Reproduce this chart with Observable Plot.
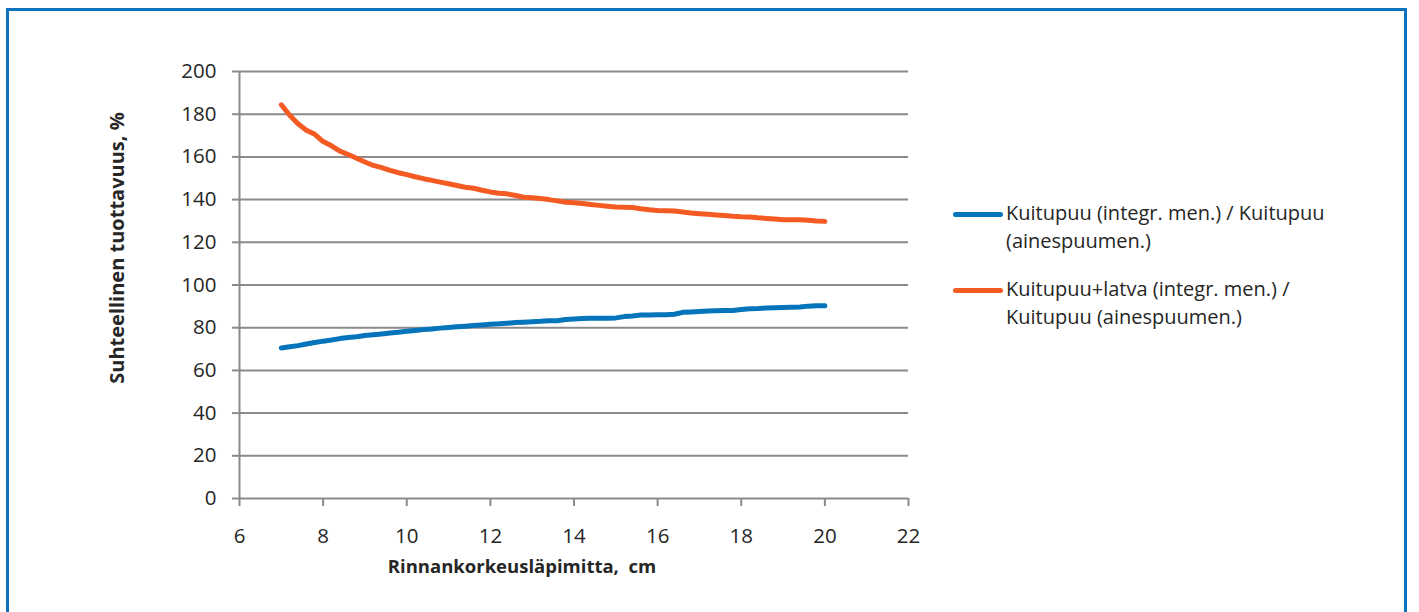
<!DOCTYPE html>
<html>
<head>
<meta charset="utf-8">
<script src="https://cdn.jsdelivr.net/npm/d3@7"></script>
<script src="https://cdn.jsdelivr.net/npm/@observablehq/plot@0.6"></script>
<style>
  html, body { margin: 0; padding: 0; background: #fff; overflow: hidden; }
  body { width: 1419px; height: 612px; position: relative; font-family: "Open Sans", sans-serif; }
  #frame { position: absolute; left: 6px; top: 8px; width: 1401px; height: 640px; border: 3px solid #0b73bb; box-sizing: border-box; }
  #chart { position: absolute; left: 0; top: 0; }
  .entry { position: absolute; left: 953px; display: flex; align-items: flex-start; }
  .swatch { width: 50px; height: 5px; border-radius: 3px; margin-top: 12px; margin-right: 3px; flex: none; }
  .label { font-size: 20px; line-height: 28px; color: #262626; margin-top: -1px; white-space: nowrap; }
</style>
</head>
<body>
<div id="frame"></div>
<div id="chart"></div>
<div id="legend"></div>
<script>
// Rinnankorkeusläpimitta (cm)
const diameter = [
  7.0, 7.2, 7.4, 7.6, 7.8, 8.0, 8.2, 8.4, 8.6, 8.8,
  9.0, 9.2, 9.4, 9.6, 9.8, 10.0, 10.2, 10.4, 10.6, 10.8,
  11.0, 11.2, 11.4, 11.6, 11.8, 12.0, 12.2, 12.4, 12.6, 12.8,
  13.0, 13.2, 13.4, 13.6, 13.8, 14.0, 14.2, 14.4, 14.6, 14.8,
  15.0, 15.2, 15.4, 15.6, 15.8, 16.0, 16.2, 16.4, 16.6, 16.8,
  17.0, 17.2, 17.4, 17.6, 17.8, 18.0, 18.2, 18.4, 18.6, 18.8,
  19.0, 19.2, 19.4, 19.6, 19.8, 20.0
];

// Kuitupuu (integr. men.) / Kuitupuu (ainespuumen.), %
const fiberOnly = [
  70.5, 71.1, 71.6, 72.4, 73.1, 73.7, 74.2, 74.9, 75.4, 75.8,
  76.3, 76.7, 77.1, 77.5, 77.9, 78.3, 78.7, 79.1, 79.4, 79.8,
  80.1, 80.4, 80.7, 81.0, 81.3, 81.6, 81.8, 82.1, 82.4, 82.6,
  82.8, 83.0, 83.3, 83.3, 83.8, 84.1, 84.3, 84.4, 84.4, 84.4,
  84.6, 85.2, 85.5, 85.9, 86.0, 86.1, 86.1, 86.3, 87.2, 87.4,
  87.6, 87.8, 87.9, 88.0, 88.1, 88.5, 88.9, 89.0, 89.2, 89.4,
  89.5, 89.6, 89.7, 90.1, 90.3, 90.3
];

// Kuitupuu+latva (integr. men.) / Kuitupuu (ainespuumen.), %
const fiberWithTop = [
  184.4, 179.5, 175.5, 172.5, 170.6, 167.2, 165.2, 162.7, 161.1, 159.4,
  157.6, 156.0, 155.0, 153.7, 152.6, 151.7, 150.7, 149.8, 149.0, 148.2,
  147.4, 146.6, 145.8, 145.3, 144.4, 143.6, 143.0, 142.7, 141.9, 141.1,
  140.9, 140.5, 140.0, 139.4, 138.8, 138.5, 138.2, 137.7, 137.3, 136.9,
  136.5, 136.4, 136.3, 135.7, 135.2, 134.9, 134.8, 134.7, 134.2, 133.7,
  133.4, 133.1, 132.8, 132.5, 132.2, 132.0, 131.9, 131.5, 131.2, 130.9,
  130.6, 130.6, 130.6, 130.3, 130.0, 129.8
];

const seriesNames = [
  "Kuitupuu (integr. men.) / Kuitupuu (ainespuumen.)",
  "Kuitupuu+latva (integr. men.) / Kuitupuu (ainespuumen.)"
];
const legendLines = [
  ["Kuitupuu (integr. men.) / Kuitupuu", "(ainespuumen.)"],
  ["Kuitupuu+latva (integr. men.) /", "Kuitupuu (ainespuumen.)"]
];
const seriesColors = ["#0474bb", "#f45b23"];

const xTicks = [6, 8, 10, 12, 14, 16, 18, 20, 22];
const yTicks = [0, 20, 40, 60, 80, 100, 120, 140, 160, 180, 200];

const xTitle = "Rinnankorkeusläpimitta,  cm";
const yTitle = "Suhteellinen tuottavuus, %";

const rows = [
  ...diameter.map((d, i) => ({d, v: fiberOnly[i], s: seriesNames[0]})),
  ...diameter.map((d, i) => ({d, v: fiberWithTop[i], s: seriesNames[1]}))
];

const gridColor = "#8a8a8a";
const textColor = "#262626";
const font = "'Open Sans', sans-serif";

const chart = Plot.plot({
  width: 1419,
  height: 612,
  marginLeft: 239,
  marginRight: 511,
  marginTop: 71,
  marginBottom: 114,
  style: {fontFamily: font, fontSize: "20px", color: textColor, background: "transparent"},
  x: {domain: [6, 22]},
  y: {domain: [0, 200]},
  color: {domain: seriesNames, range: seriesColors},
  marks: [
    Plot.ruleY(yTicks, {stroke: gridColor, strokeWidth: 2, strokeOpacity: 1}),
    Plot.ruleX([6], {y1: 0, y2: 200, stroke: gridColor, strokeWidth: 2, strokeOpacity: 1}),
    Plot.axisY({ticks: yTicks, tickSize: 7, tickPadding: 16, stroke: gridColor, strokeWidth: 2, strokeOpacity: 1, label: null, fill: textColor, fontSize: 20.5}),
    Plot.axisX({ticks: xTicks, tickSize: 8, tickPadding: 22, stroke: gridColor, strokeWidth: 2, strokeOpacity: 1, label: null, fill: textColor, fontSize: 20.5}),
    Plot.line(rows, {
      x: "d", y: "v", z: "s", stroke: "s",
      strokeWidth: 5, strokeLinecap: "round", strokeLinejoin: "round"
    }),
    Plot.text([xTitle], {frameAnchor: "bottom", textAnchor: "middle", dx: -52, dy: 74, fontWeight: "bold", fontSize: 18.5, fill: textColor}),
    Plot.text([yTitle], {frameAnchor: "left", textAnchor: "middle", rotate: -90, dx: -122, dy: -37, fontWeight: "bold", fontSize: 20, fill: textColor})
  ]
});
document.getElementById("chart").append(chart);

// Legend beside the plot
const legend = document.getElementById("legend");
const entryTops = [200, 276];
seriesNames.forEach((name, i) => {
  const entry = document.createElement("div");
  entry.className = "entry";
  entry.style.top = entryTops[i] + "px";
  const sw = document.createElement("div");
  sw.className = "swatch";
  sw.style.background = seriesColors[i];
  const lab = document.createElement("div");
  lab.className = "label";
  lab.innerHTML = legendLines[i].join("<br>");
  entry.append(sw, lab);
  legend.append(entry);
});
</script>
</body>
</html>
